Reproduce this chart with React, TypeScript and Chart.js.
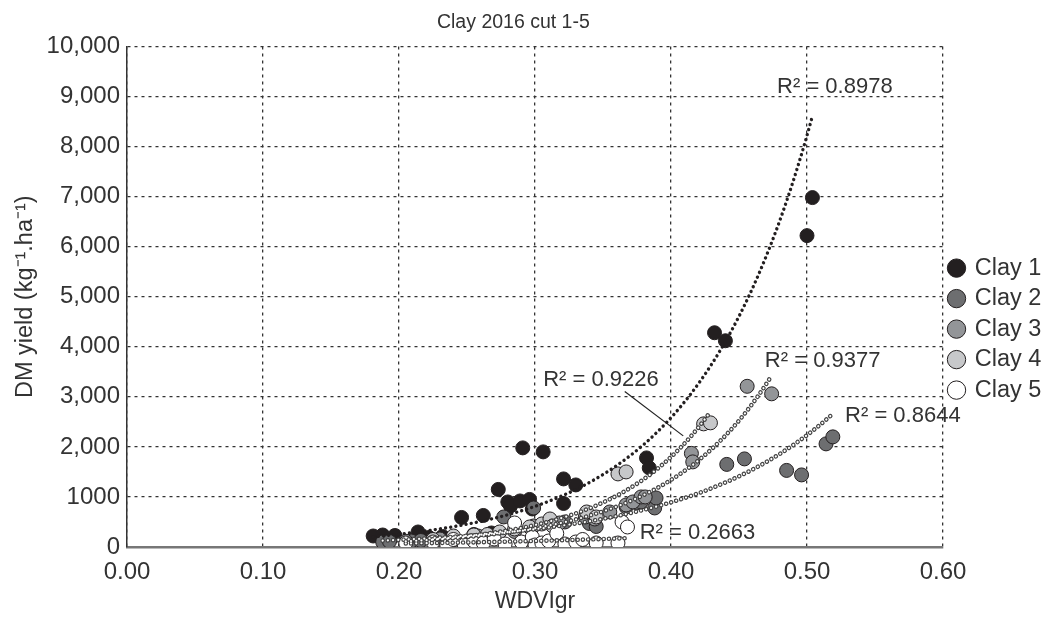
import React, { useEffect, useRef } from 'react';
import { Chart, registerables } from 'chart.js';

Chart.register(...registerables);

// ---------- data ----------
const seriesNames = ['Clay 1', 'Clay 2', 'Clay 3', 'Clay 4', 'Clay 5'];

const clay1X = [0.181, 0.188, 0.197, 0.214, 0.222, 0.232, 0.240, 0.246, 0.255, 0.262, 0.268, 0.273, 0.280, 0.282, 0.289, 0.291, 0.296, 0.298, 0.306, 0.321, 0.321, 0.330, 0.382, 0.384, 0.432, 0.440, 0.500, 0.504];
const clay1Y = [220, 240, 230, 300, 190, 210, 170, 590, 250, 630, 280, 1150, 900, 820, 920, 1980, 950, 760, 1900, 1360, 870, 1240, 1780, 1580, 4280, 4120, 6220, 6980];

const clay2X = [0.188, 0.193, 0.209, 0.216, 0.240, 0.262, 0.277, 0.299, 0.322, 0.340, 0.345, 0.367, 0.375, 0.378, 0.388, 0.389, 0.441, 0.454, 0.485, 0.496, 0.514, 0.519];
const clay2Y = [100, 110, 120, 130, 150, 200, 600, 780, 500, 470, 410, 800, 880, 900, 780, 980, 1650, 1760, 1530, 1440, 2060, 2200];

const clay3X = [0.205, 0.230, 0.258, 0.285, 0.299, 0.318, 0.337, 0.344, 0.355, 0.367, 0.372, 0.378, 0.381, 0.415, 0.416, 0.456, 0.474];
const clay3Y = [115, 160, 220, 310, 420, 480, 600, 560, 700, 840, 900, 1000, 1000, 1870, 1700, 3210, 3060];

const clay4X = [0.225, 0.240, 0.255, 0.265, 0.274, 0.285, 0.296, 0.305, 0.311, 0.313, 0.338, 0.345, 0.361, 0.367, 0.424, 0.429];
const clay4Y = [150, 220, 240, 250, 300, 360, 400, 460, 560, 420, 700, 600, 1460, 1500, 2460, 2480];

const clay5X = [0.205, 0.225, 0.235, 0.240, 0.248, 0.255, 0.262, 0.270, 0.278, 0.285, 0.290, 0.298, 0.300, 0.305, 0.310, 0.316, 0.322, 0.330, 0.335, 0.345, 0.361, 0.364, 0.368];
const clay5Y = [80, 100, 60, 150, 40, 120, 80, 160, 60, 480, 100, 200, 40, 80, 120, 270, 60, 100, 150, 80, 80, 500, 400];

const xTickLabels = ['0.00', '0.10', '0.20', '0.30', '0.40', '0.50', '0.60'];
const yTickLabels = ['0', '1000', '2,000', '3,000', '4,000', '5,000', '6,000', '7,000', '8,000', '9,000', '10,000'];

const r2Texts = ['R\u00B2 = 0.8978', 'R\u00B2 = 0.8644', 'R\u00B2 = 0.9377', 'R\u00B2 = 0.9226', 'R\u00B2 = 0.2663'];
const r2LabelX = [0.478, 0.528, 0.469, 0.306, 0.377];
const r2LabelY = [9200, 2620, 3720, 3340, 280];
const leaderX = [0.366, 0.409];
const leaderY = [3106, 2220];

// ---------- styles ----------
const FONT = '"Liberation Sans", Arial, Helvetica, sans-serif';
const TEXT = '#333333';
const fills = ['#231f20', '#6d6e70', '#939598', '#c7c8ca', '#ffffff'];
const trendOuter = ['#231f20', '#444444', '#444444', '#444444', '#444444'];

const xsAll = [clay1X, clay2X, clay3X, clay4X, clay5X];
const ysAll = [clay1Y, clay2Y, clay3Y, clay4Y, clay5Y];

// exponential least squares fit (ln y on x), like a spreadsheet trendline
function expTrend(xs: number[], ys: number[]) {
  const n = xs.length;
  const ly = ys.map((v) => Math.log(v));
  const mx = xs.reduce((s, v) => s + v, 0) / n;
  const my = ly.reduce((s, v) => s + v, 0) / n;
  let sxy = 0;
  let sxx = 0;
  for (let i = 0; i < n; i++) {
    sxy += (xs[i] - mx) * (ly[i] - my);
    sxx += (xs[i] - mx) * (xs[i] - mx);
  }
  const b = sxy / sxx;
  const a = Math.exp(my - b * mx);
  const lo = Math.min(...xs);
  const hi = Math.max(...xs);
  const pts: { x: number; y: number }[] = [];
  const steps = 120;
  for (let i = 0; i <= steps; i++) {
    const x = lo + ((hi - lo) * i) / steps;
    pts.push({ x, y: a * Math.exp(b * x) });
  }
  return pts;
}

const r2Plugin = {
  id: 'r2labels',
  afterDatasetsDraw(chart: any) {
    const { ctx } = chart;
    const xs = chart.scales.x;
    const ys = chart.scales.y;
    ctx.save();
    ctx.font = '22px ' + FONT;
    ctx.fillStyle = TEXT;
    ctx.textBaseline = 'middle';
    ctx.textAlign = 'left';
    r2Texts.forEach((t, i) => {
      ctx.fillText(t, xs.getPixelForValue(r2LabelX[i]), ys.getPixelForValue(r2LabelY[i]));
    });
    ctx.strokeStyle = '#222';
    ctx.lineWidth = 1.2;
    ctx.beginPath();
    ctx.moveTo(xs.getPixelForValue(leaderX[0]), ys.getPixelForValue(leaderY[0]));
    ctx.lineTo(xs.getPixelForValue(leaderX[1]), ys.getPixelForValue(leaderY[1]));
    ctx.stroke();
    ctx.restore();
  },
};

export default function App() {
  const ref = useRef<HTMLCanvasElement | null>(null);

  useEffect(() => {
    if (!ref.current) return;
    const datasets: any[] = [];
    seriesNames.forEach((name, i) => {
      datasets.push({
        label: name,
        data: xsAll[i].map((x, j) => ({ x, y: ysAll[i][j] })),
        backgroundColor: fills[i],
        borderColor: '#231f20',
        borderWidth: 1,
        pointRadius: 7,
        pointHoverRadius: 7,
        pointBorderWidth: 1,
        pointStyle: 'circle',
        order: 10 - i,
      });
    });
    seriesNames.forEach((name, i) => {
      const pts = expTrend(xsAll[i], ysAll[i]);
      const solid = i === 0;
      datasets.push({
        label: name + ' trend',
        type: 'line',
        data: pts,
        showLine: true,
        pointRadius: 0,
        borderColor: trendOuter[i],
        borderWidth: solid ? 3.4 : 4.6,
        borderDash: [0.01, 5.2],
        borderCapStyle: 'round',
        fill: false,
        tension: 0,
        order: 2,
      });
      if (!solid) {
        datasets.push({
          label: name + ' trend inner',
          type: 'line',
          data: pts,
          showLine: true,
          pointRadius: 0,
          borderColor: '#ffffff',
          borderWidth: 2.2,
          borderDash: [0.01, 5.2],
          borderCapStyle: 'round',
          fill: false,
          tension: 0,
          order: 1,
        });
      }
    });

    const chart = new Chart(ref.current, {
      type: 'scatter',
      data: { datasets },
      plugins: [r2Plugin],
      options: {
        animation: false,
        responsive: true,
        maintainAspectRatio: false,
        plugins: {
          title: {
            display: true,
            text: 'Clay 2016 cut 1-5   ',
            color: TEXT,
            font: { family: FONT, size: 19.5, weight: 'normal' },
            padding: { top: 11, bottom: 12 },
          },
          legend: {
            position: 'right',
            maxWidth: 100,
            title: {
              display: true,
              text: ' ',
              font: { size: 1 },
              padding: { top: 19, bottom: 19 },
            },
            labels: {
              usePointStyle: true,
              boxHeight: 13,
              boxWidth: 13,
              padding: 7,
              color: TEXT,
              font: { family: FONT, size: 23.5 },
              filter: (item: any) => item.datasetIndex < 5,
              sort: (a: any, b: any) => a.datasetIndex - b.datasetIndex,
            },
          },
          tooltip: { enabled: false },
        },
        scales: {
          x: {
            type: 'linear',
            min: 0,
            max: 0.6,
            afterFit: (s: any) => {
              s.height = 72;
            },
            ticks: {
              stepSize: 0.1,
              color: TEXT,
              padding: 11,
              font: { family: FONT, size: 24 },
              callback: (_v: any, i: number) => xTickLabels[i],
            },
            grid: { color: '#333', lineWidth: 1.3, drawTicks: false },
            border: { display: true, color: '#777', width: 2.5, dash: [3, 4] },
            title: {
              display: true,
              text: 'WDVIgr',
              color: TEXT,
              font: { family: FONT, size: 23 },
              padding: { top: 0, bottom: 4 },
            },
          },
          y: {
            type: 'linear',
            min: 0,
            max: 10000,
            afterFit: (s: any) => {
              s.width = 127;
            },
            ticks: {
              stepSize: 1000,
              color: TEXT,
              padding: 7,
              font: { family: FONT, size: 24 },
              callback: (_v: any, i: number) => yTickLabels[i],
            },
            grid: { color: '#333', lineWidth: 1.3, drawTicks: false },
            border: { display: true, color: '#333', width: 1.5, dash: [3, 4] },
            title: {
              display: true,
              text: 'DM yield (kg\u207B\u00B9.ha\u207B\u00B9)',
              color: TEXT,
              font: { family: FONT, size: 23.5 },
              padding: { top: 11, bottom: 0 },
            },
          },
        },
      } as any,
    });
    return () => chart.destroy();
  }, []);

  return (
    <div style={{ position: 'fixed', left: 0, top: 0, width: 1043, height: 619, background: '#fff' }}>
      <canvas ref={ref} />
    </div>
  );
}
